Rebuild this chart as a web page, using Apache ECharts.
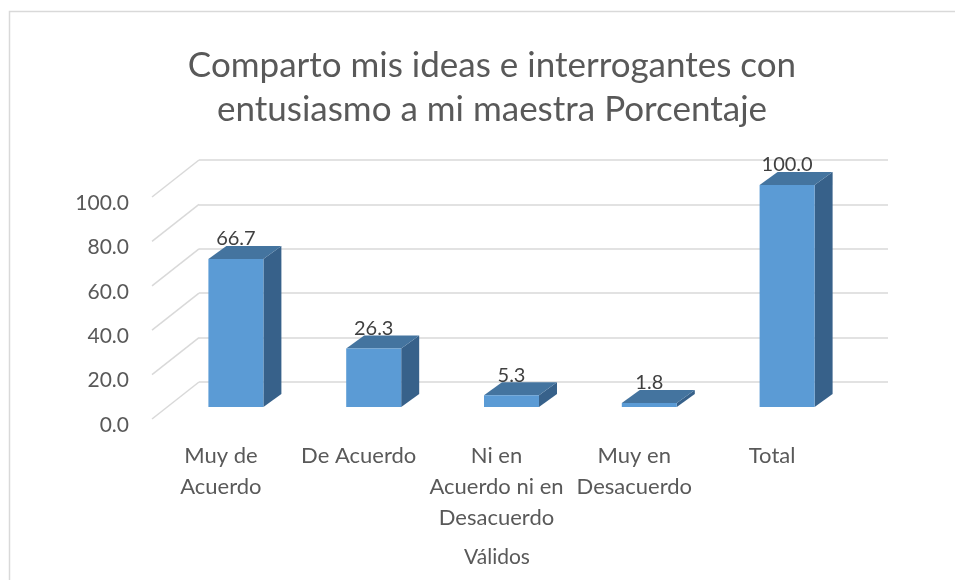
<!DOCTYPE html>
<html>
<head>
<meta charset="utf-8">
<script src="https://cdn.jsdelivr.net/npm/echarts@6/dist/echarts.min.js"></script>
<style>
	html,body{margin:0;padding:0;background:#fff;}
	#grafico{width:955px;height:580px;}
</style>
</head>
<body>
<div id="grafico"></div>
<script>
var categorias = ['Muy de\nAcuerdo', 'De Acuerdo', 'Ni en\nAcuerdo ni en\nDesacuerdo', 'Muy en\nDesacuerdo', 'Total'];
var porcentajes = [66.7, 26.3, 5.3, 1.8, 100.0];
var marcas_y = [0, 20, 40, 60, 80, 100];
var titulo = 'Comparto mis ideas e interrogantes con\nentusiasmo a mi maestra Porcentaje';
var titulo_eje = 'Válidos';

var fuente = 'Lato, "Open Sans", sans-serif';
// desplazamientos de la perspectiva (pared del fondo -> frente)
var piso = [-47, 37];
var cara_frente = [-32, 25];
var cara_fondo = [-14, 12];
var ancho_barra = 55;

var grafico = echarts.init(document.getElementById('grafico'));

function barra3d(params, api){
	var i = api.value(0);
	var v = api.value(1);
	var arriba = api.coord([i, v]);
	var abajo = api.coord([i, 0]);
	var x0 = arriba[0] + cara_frente[0] - ancho_barra / 2;
	var x1 = x0 + ancho_barra;
	var yt = arriba[1] + cara_frente[1];
	var yb = abajo[1] + cara_frente[1];
	var dx = cara_fondo[0] - cara_frente[0];
	var dy = cara_fondo[1] - cara_frente[1];
	return {
		type:'group',
		children:[
			{type:'polygon', shape:{points:[[x1,yt],[x1+dx,yt+dy],[x1+dx,yb+dy],[x1,yb]]}, style:{fill:'#37618a'}},
			{type:'polygon', shape:{points:[[x0,yt],[x1,yt],[x1+dx,yt+dy],[x0+dx,yt+dy]]}, style:{fill:'#44749f'}},
			{type:'rect', shape:{x:x0, y:yt, width:ancho_barra, height:yb-yt}, style:{fill:'#5b9bd5'}},
			{type:'text', style:{text:v.toFixed(1), x:(x0+x1)/2, y:yt-20, align:'center', verticalAlign:'middle', font:'20px ' + fuente, fill:'#404040'}}
		]
	};
}

function pared(params, api){
	var v = api.value(0);
	var p = api.coord([0, v]);
	var x = params.coordSys.x;
	return {
		type:'line',
		shape:{x1:x, y1:p[1], x2:x + piso[0], y2:p[1] + piso[1]},
		style:{stroke:'#d9d9d9', lineWidth:1.5}
	};
}

var option = {
	animation:false,
	backgroundColor:'#fff',
	textStyle:{fontFamily:fuente},
	graphic:[
		{type:'rect', shape:{x:9.5, y:11.5, width:980, height:600}, style:{fill:null, stroke:'#d9d9d9', lineWidth:1.5}, silent:true},
		{type:'text', style:{text:titulo, x:492, y:44, align:'center', font:'35px ' + fuente, fill:'#595959', lineHeight:44}},
		{type:'text', style:{text:titulo_eje, x:497, y:557, align:'center', verticalAlign:'middle', font:'21px ' + fuente, fill:'#595959'}}
	],
	grid:[
		{left:199, top:160, width:689, height:222},
		{left:152, top:203, width:689, height:222}
	],
	xAxis:[
		{type:'category', gridIndex:0, data:categorias, show:false},
		{
			type:'category', gridIndex:1, data:categorias,
			axisLine:{show:false}, axisTick:{show:false}, splitLine:{show:false},
			axisLabel:{color:'#595959', fontSize:22, lineHeight:31, margin:15, interval:0, fontFamily:fuente}
		}
	],
	yAxis:[
		{
			type:'value', gridIndex:0, min:0, max:100, interval:20,
			axisLine:{show:false}, axisTick:{show:false}, axisLabel:{show:false},
			splitLine:{lineStyle:{color:'#d9d9d9', width:1.5}}
		},
		{
			type:'value', gridIndex:1, min:0, max:100, interval:20,
			axisLine:{show:false}, axisTick:{show:false}, splitLine:{show:false},
			axisLabel:{color:'#595959', fontSize:21, margin:23, fontFamily:fuente, formatter:function(v){return v.toFixed(1);}}
		}
	],
	series:[
		{
			type:'custom', xAxisIndex:0, yAxisIndex:0,
			renderItem:pared,
			data:marcas_y.map(function(v){return [v];}),
			encode:{y:0},
			silent:true
		},
		{
			type:'custom', xAxisIndex:0, yAxisIndex:0,
			renderItem:barra3d,
			data:porcentajes.map(function(v, i){return [i, v];}),
			encode:{x:0, y:1},
			silent:true
		}
	]
};
grafico.setOption(option);
</script>
</body>
</html>
